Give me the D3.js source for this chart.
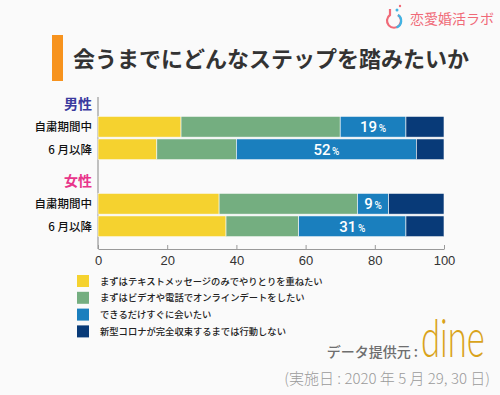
<!DOCTYPE html>
<html>
<head>
<meta charset="utf-8">
<script src="https://cdn.jsdelivr.net/npm/d3@7"></script>
<style>
  body { margin: 0; background: #fafafa; }
  svg { display: block; font-family: "Noto Sans CJK JP", "Noto Sans", sans-serif; }
</style>
</head>
<body>
<div class="chart"></div>
<script>
const groups = ['男性', '女性'];
const periods = ['自粛期間中', '6 月以降'];
const seriesNames = [
  'まずはテキストメッセージのみでやりとりを重ねたい',
  'まずはビデオや電話でオンラインデートをしたい',
  'できるだけすぐに会いたい',
  '新型コロナが完全収束するまでは行動しない'
];
// values per group, per period, per series (%)
const maleValues = [
  [24, 46, 19, 11],
  [17, 23, 52, 8]
];
const femaleValues = [
  [35, 40, 9, 16],
  [37, 21, 31, 11]
];
const xTicks = [0, 20, 40, 60, 80, 100];

const colors = d3.scaleOrdinal()
  .domain(seriesNames)
  .range(['#f5d22f', '#74ae80', '#1a7fbe', '#083a78']);
const groupColors = d3.scaleOrdinal()
  .domain(groups)
  .range(['#3b3a9e', '#e8358a']);

const width = 500;
const height = 395;
const svg = d3.select('.chart').append('svg')
  .attr('width', width)
  .attr('height', height);

svg.append('rect').attr('width', width).attr('height', height).attr('fill', '#fafafa');

// logo
const logo = svg.append('g');
logo.append('path')
  .attr('d', 'M390,9 L390,15 A7,7 0 1 0 398,15')
  .attr('fill', 'none')
  .attr('stroke', '#f06a78')
  .attr('stroke-width', 2.2);
logo.append('path')
  .attr('d', 'M398,15 A7,7 0 0 1 396.5,27.5')
  .attr('fill', 'none')
  .attr('stroke', '#3fb4e4')
  .attr('stroke-width', 2.2);
logo.append('circle').attr('cx', 397).attr('cy', 10).attr('r', 1.5).attr('fill', '#3fb4e4');
logo.append('circle').attr('cx', 400).attr('cy', 6).attr('r', 1.2).attr('fill', '#f06a78');
logo.append('text')
  .attr('x', 410).attr('y', 24)
  .attr('font-size', 14)
  .attr('fill', '#f06a78')
  .text('恋愛婚活ラボ');

// title
svg.append('rect')
  .attr('x', 52).attr('y', 35).attr('width', 11).attr('height', 46)
  .attr('fill', '#f7931e');
svg.append('text')
  .attr('x', 73).attr('y', 67)
  .attr('font-size', 22)
  .attr('font-weight', 'bold')
  .attr('fill', '#333')
  .text('会うまでにどんなステップを踏みたいか');

// scales
const x = d3.scaleLinear().domain([0, 100]).range([98, 444]);
const yGroup = d3.scaleBand().domain(groups).range([92, 238.5]).paddingInner(0.0974);
const yRow = d3.scaleBand().domain(['header'].concat(periods))
  .range([0, yGroup.bandwidth()]).padding(0.08);

const rows = [];
[maleValues, femaleValues].forEach((vals, gi) => {
  vals.forEach((v, pi) => {
    let acc = 0;
    const segs = v.map((val, si) => {
      const s = { series: seriesNames[si], x0: acc, x1: acc + val, value: val };
      acc += val;
      return s;
    });
    rows.push({ group: groups[gi], period: periods[pi], segs });
  });
});

const rowY = d => yGroup(d.group) + yRow(d.period);

// left axis line
svg.append('line')
  .attr('x1', x(0)).attr('x2', x(0))
  .attr('y1', 97).attr('y2', 249)
  .attr('stroke', '#999').attr('stroke-width', 1.2);

const rowG = svg.selectAll('g.row')
  .data(rows)
  .enter()
  .append('g')
  .attr('class', 'row')
  .attr('transform', d => `translate(0,${rowY(d)})`);

rowG.selectAll('rect')
  .data(d => d.segs)
  .enter()
  .append('rect')
  .attr('x', d => x(d.x0))
  .attr('y', 0)
  .attr('width', d => x(d.x1) - x(d.x0))
  .attr('height', yRow.bandwidth())
  .attr('fill', d => colors(d.series))
  .attr('stroke', '#fafafa')
  .attr('stroke-width', 0.6);

// percentage labels on the third series
const pct = rowG.append('text')
  .datum(d => d.segs[2])
  .attr('x', d => (x(d.x0) + x(d.x1)) / 2)
  .attr('y', yRow.bandwidth() / 2 + 5.5)
  .attr('text-anchor', 'middle')
  .attr('fill', '#fff')
  .attr('font-family', 'Roboto, "Noto Sans", sans-serif')
  .attr('font-weight', 500);
pct.append('tspan').attr('font-size', 15).text(d => d.value);
pct.append('tspan').attr('font-size', 10).attr('dx', 1.5).text('%');

// row labels
rowG.append('text')
  .attr('x', 92)
  .attr('y', yRow.bandwidth() / 2 + 4.5)
  .attr('text-anchor', 'end')
  .attr('font-size', 11.5)
  .attr('font-weight', 500)
  .attr('fill', '#111')
  .text(d => d.period);

// group headers
svg.selectAll('text.group')
  .data(groups)
  .enter()
  .append('text')
  .attr('class', 'group')
  .attr('x', 92)
  .attr('y', d => yGroup(d) + yRow('header') + yRow.bandwidth() / 2 + 5)
  .attr('text-anchor', 'end')
  .attr('font-size', 14)
  .attr('font-weight', 'bold')
  .attr('fill', d => groupColors(d))
  .text(d => d);

// x axis
const xAxis = svg.append('g')
  .attr('transform', 'translate(0,249)')
  .call(d3.axisBottom(x).tickValues(xTicks).tickSize(-4).tickPadding(7).tickSizeOuter(0));
xAxis.select('.domain').attr('stroke', '#999').attr('stroke-width', 1.2);
xAxis.selectAll('.tick line').attr('stroke', '#999');
xAxis.selectAll('.tick text')
  .attr('font-size', 13)
  .attr('fill', '#333')
  .attr('font-family', '"Liberation Sans", Arial, sans-serif');

// legend
const legend = svg.selectAll('g.legend')
  .data(seriesNames)
  .enter()
  .append('g')
  .attr('class', 'legend')
  .attr('transform', (d, i) => `translate(77,${275 + i * 16.8})`);
legend.append('rect')
  .attr('width', 12).attr('height', 12)
  .attr('fill', d => colors(d));
legend.append('text')
  .attr('x', 23).attr('y', 9.5)
  .attr('font-size', 9.3)
  .attr('font-weight', 500)
  .attr('fill', '#222')
  .text(d => d);

// source
svg.append('text')
  .attr('x', 418).attr('y', 357)
  .attr('text-anchor', 'end')
  .attr('font-size', 14)
  .attr('font-weight', 500)
  .attr('fill', '#6e6e6e')
  .text('データ提供元 :');
svg.append('text')
  .attr('transform', 'translate(421,357) scale(0.64,1)')
  .attr('font-size', 54)
  .attr('font-weight', 300)
  .attr('font-family', 'Lato, "Open Sans", sans-serif')
  .attr('fill', '#d9a31a')
  .text('dine');
svg.append('text')
  .attr('x', 490).attr('y', 384)
  .attr('text-anchor', 'end')
  .attr('font-size', 15)
  .attr('font-weight', 300)
  .attr('fill', '#9a9a9a')
  .text('(実施日 : 2020 年 5 月 29, 30 日)');
</script>
</body>
</html>
